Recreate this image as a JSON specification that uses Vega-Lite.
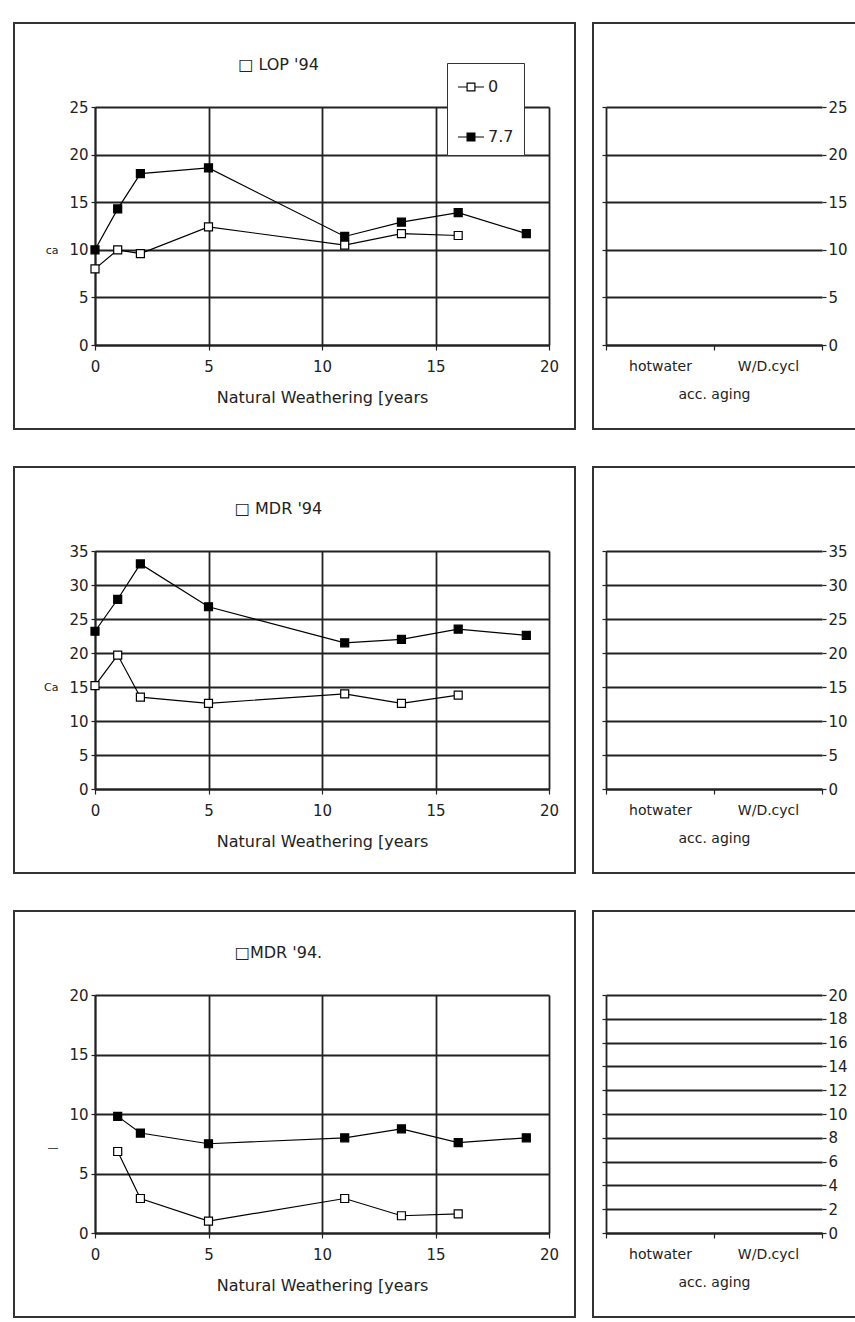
{
  "$schema": "https://vega.github.io/schema/vega-lite/v6.json",
  "padding": {"left": 13, "top": 22, "right": 0, "bottom": 0},
  "background": "white",
  "datasets": {
    "lop": [
      {"t": 0, "series": "0", "v": 8},
      {"t": 1, "series": "0", "v": 10},
      {"t": 2, "series": "0", "v": 9.6},
      {"t": 5, "series": "0", "v": 12.4},
      {"t": 11, "series": "0", "v": 10.5},
      {"t": 13.5, "series": "0", "v": 11.7},
      {"t": 16, "series": "0", "v": 11.5},
      {"t": 0, "series": "7.7", "v": 10},
      {"t": 1, "series": "7.7", "v": 14.3},
      {"t": 2, "series": "7.7", "v": 18},
      {"t": 5, "series": "7.7", "v": 18.6},
      {"t": 11, "series": "7.7", "v": 11.4},
      {"t": 13.5, "series": "7.7", "v": 12.9},
      {"t": 16, "series": "7.7", "v": 13.9},
      {"t": 19, "series": "7.7", "v": 11.7}
    ],
    "mdr": [
      {"t": 0, "series": "0", "v": 15.2},
      {"t": 1, "series": "0", "v": 19.7},
      {"t": 2, "series": "0", "v": 13.5},
      {"t": 5, "series": "0", "v": 12.6},
      {"t": 11, "series": "0", "v": 14},
      {"t": 13.5, "series": "0", "v": 12.6},
      {"t": 16, "series": "0", "v": 13.8},
      {"t": 0, "series": "7.7", "v": 23.2},
      {"t": 1, "series": "7.7", "v": 27.9},
      {"t": 2, "series": "7.7", "v": 33.1},
      {"t": 5, "series": "7.7", "v": 26.8},
      {"t": 11, "series": "7.7", "v": 21.5},
      {"t": 13.5, "series": "7.7", "v": 22},
      {"t": 16, "series": "7.7", "v": 23.5},
      {"t": 19, "series": "7.7", "v": 22.6}
    ],
    "mdr2": [
      {"t": 1, "series": "0", "v": 6.85},
      {"t": 2, "series": "0", "v": 2.9},
      {"t": 5, "series": "0", "v": 1},
      {"t": 11, "series": "0", "v": 2.9},
      {"t": 13.5, "series": "0", "v": 1.45},
      {"t": 16, "series": "0", "v": 1.6},
      {"t": 1, "series": "7.7", "v": 9.8},
      {"t": 2, "series": "7.7", "v": 8.4},
      {"t": 5, "series": "7.7", "v": 7.5},
      {"t": 11, "series": "7.7", "v": 8},
      {"t": 13.5, "series": "7.7", "v": 8.75},
      {"t": 16, "series": "7.7", "v": 7.6},
      {"t": 19, "series": "7.7", "v": 8}
    ],
    "empty": [
      {"method": "hotwater", "v": null},
      {"method": "W/D.cycl", "v": null}
    ]
  },
  "spacing": 36,
  "resolve": {"scale": {"fill": "independent"}},
  "vconcat": [
    {
      "spacing": 16,
      "resolve": {"scale": {"fill": "independent"}},
      "hconcat": [
        {
          "width": 561, "height": 406,
          "title": {"text": "□ LOP '94", "offset": -50, "dx": -16},
          "data": {"name": "lop"},
          "encoding": {
            "x": {"field": "t", "type": "quantitative", "scale": {"domain": [0, 20], "range": [81, 535], "nice": false, "zero": false},
                  "axis": {"values": [0, 5, 10, 15, 20], "offset": -84, "title": "Natural Weathering [years", "labelFlush": false, "tickSize": 5, "labelPadding": 9, "titlePadding": 15}},
            "y": {"field": "v", "type": "quantitative", "scale": {"domain": [0, 25], "range": [322, 84], "nice": false},
                  "axis": {"values": [0, 5, 10, 15, 20, 25], "offset": -81, "title": "ca", "titleAngle": 0, "titleX": -37, "titleY": 227, "titleAlign": "right", "titleBaseline": "middle", "titleFontSize": 11, "tickSize": 4, "labelPadding": 3}}
          },
          "layer": [
            {"mark": {"type": "line", "color": "black", "strokeWidth": 1.2}, "encoding": {"detail": {"field": "series"}}},
            {"mark": {"type": "point", "shape": "square", "filled": true, "size": 64, "stroke": "black", "strokeWidth": 1.2, "opacity": 1},
             "encoding": {"fill": {"field": "series", "type": "nominal", "scale": {"domain": ["0", "7.7"], "range": ["white", "black"]},
               "legend": {"orient": "none", "legendX": 433, "legendY": 40, "title": null, "symbolType": "M-1,0H-0.3M0.3,0H1M-0.3,-0.3H0.3V0.3H-0.3Z", "symbolSize": 676, "symbolStrokeColor": "black", "symbolStrokeWidth": 1.2, "labelFontSize": 16, "labelOffset": 3, "rowPadding": 28, "padding": 10, "strokeColor": "#333", "fillColor": "white", "labelColor": "#222"}}}}
          ]
        },
        {
          "width": 264, "height": 406,
          "data": {"name": "empty"},
          "encoding": {
            "x": {"field": "method", "type": "nominal", "sort": ["hotwater", "W/D.cycl"], "scale": {"domain": ["hotwater", "W/D.cycl"], "range": [13, 229], "paddingInner": 0, "paddingOuter": 0},
                  "axis": {"offset": -84, "title": "acc. aging", "labelAngle": 0, "tickBand": "extent", "grid": false, "tickSize": 5, "labelPadding": 9, "titlePadding": 14, "labelFontSize": 14, "titleFontSize": 14}}
          },
          "layer": [
            {"mark": {"type": "point", "opacity": 0},
             "encoding": {"y": {"field": "v", "type": "quantitative", "scale": {"domain": [0, 25], "range": [322, 84], "nice": false},
               "axis": {"orient": "left", "offset": -13, "labels": false, "grid": true, "values": [0, 5, 10, 15, 20, 25], "title": null, "tickSize": 4}}}},
            {"mark": {"type": "point", "opacity": 0},
             "encoding": {"y": {"field": "v", "type": "quantitative", "scale": {"domain": [0, 25], "range": [322, 84], "nice": false},
               "axis": {"orient": "right", "offset": -35, "domain": false, "grid": false, "values": [0, 5, 10, 15, 20, 25], "title": null, "tickSize": 4, "labelPadding": 2}}}}
          ],
          "resolve": {"axis": {"y": "independent"}}
        }
      ]
    },
    {
      "spacing": 16,
      "resolve": {"scale": {"fill": "independent"}},
      "hconcat": [
        {
          "width": 561, "height": 406,
          "title": {"text": "□ MDR '94", "offset": -50, "dx": -16},
          "data": {"name": "mdr"},
          "encoding": {
            "x": {"field": "t", "type": "quantitative", "scale": {"domain": [0, 20], "range": [81, 535], "nice": false, "zero": false},
                  "axis": {"values": [0, 5, 10, 15, 20], "offset": -84, "title": "Natural Weathering [years", "labelFlush": false, "tickSize": 5, "labelPadding": 9, "titlePadding": 15}},
            "y": {"field": "v", "type": "quantitative", "scale": {"domain": [0, 35], "range": [322, 84], "nice": false},
                  "axis": {"values": [0, 5, 10, 15, 20, 25, 30, 35], "offset": -81, "title": "Ca", "titleAngle": 0, "titleX": -37, "titleY": 220, "titleAlign": "right", "titleBaseline": "middle", "titleFontSize": 11, "tickSize": 4, "labelPadding": 3}}
          },
          "layer": [
            {"mark": {"type": "line", "color": "black", "strokeWidth": 1.2}, "encoding": {"detail": {"field": "series"}}},
            {"mark": {"type": "point", "shape": "square", "filled": true, "size": 64, "stroke": "black", "strokeWidth": 1.2, "opacity": 1},
             "encoding": {"fill": {"field": "series", "type": "nominal", "scale": {"domain": ["0", "7.7"], "range": ["white", "black"]}, "legend": null}}}
          ]
        },
        {
          "width": 264, "height": 406,
          "data": {"name": "empty"},
          "encoding": {
            "x": {"field": "method", "type": "nominal", "sort": ["hotwater", "W/D.cycl"], "scale": {"domain": ["hotwater", "W/D.cycl"], "range": [13, 229], "paddingInner": 0, "paddingOuter": 0},
                  "axis": {"offset": -84, "title": "acc. aging", "labelAngle": 0, "tickBand": "extent", "grid": false, "tickSize": 5, "labelPadding": 9, "titlePadding": 14, "labelFontSize": 14, "titleFontSize": 14}}
          },
          "layer": [
            {"mark": {"type": "point", "opacity": 0},
             "encoding": {"y": {"field": "v", "type": "quantitative", "scale": {"domain": [0, 35], "range": [322, 84], "nice": false},
               "axis": {"orient": "left", "offset": -13, "labels": false, "grid": true, "values": [0, 5, 10, 15, 20, 25, 30, 35], "title": null, "tickSize": 4}}}},
            {"mark": {"type": "point", "opacity": 0},
             "encoding": {"y": {"field": "v", "type": "quantitative", "scale": {"domain": [0, 35], "range": [322, 84], "nice": false},
               "axis": {"orient": "right", "offset": -35, "domain": false, "grid": false, "values": [0, 5, 10, 15, 20, 25, 30, 35], "title": null, "tickSize": 4, "labelPadding": 2}}}}
          ],
          "resolve": {"axis": {"y": "independent"}}
        }
      ]
    },
    {
      "spacing": 16,
      "resolve": {"scale": {"fill": "independent"}},
      "hconcat": [
        {
          "width": 561, "height": 406,
          "title": {"text": "□MDR '94.", "offset": -50, "dx": -16},
          "data": {"name": "mdr2"},
          "encoding": {
            "x": {"field": "t", "type": "quantitative", "scale": {"domain": [0, 20], "range": [81, 535], "nice": false, "zero": false},
                  "axis": {"values": [0, 5, 10, 15, 20], "offset": -84, "title": "Natural Weathering [years", "labelFlush": false, "tickSize": 5, "labelPadding": 9, "titlePadding": 15}},
            "y": {"field": "v", "type": "quantitative", "scale": {"domain": [0, 20], "range": [322, 84], "nice": false},
                  "axis": {"values": [0, 5, 10, 15, 20], "offset": -81, "title": "—", "titleAngle": 0, "titleX": -37, "titleY": 236, "titleAlign": "right", "titleBaseline": "middle", "titleFontSize": 11, "tickSize": 4, "labelPadding": 3}}
          },
          "layer": [
            {"mark": {"type": "line", "color": "black", "strokeWidth": 1.2}, "encoding": {"detail": {"field": "series"}}},
            {"mark": {"type": "point", "shape": "square", "filled": true, "size": 64, "stroke": "black", "strokeWidth": 1.2, "opacity": 1},
             "encoding": {"fill": {"field": "series", "type": "nominal", "scale": {"domain": ["0", "7.7"], "range": ["white", "black"]}, "legend": null}}}
          ]
        },
        {
          "width": 264, "height": 406,
          "data": {"name": "empty"},
          "encoding": {
            "x": {"field": "method", "type": "nominal", "sort": ["hotwater", "W/D.cycl"], "scale": {"domain": ["hotwater", "W/D.cycl"], "range": [13, 229], "paddingInner": 0, "paddingOuter": 0},
                  "axis": {"offset": -84, "title": "acc. aging", "labelAngle": 0, "tickBand": "extent", "grid": false, "tickSize": 5, "labelPadding": 9, "titlePadding": 14, "labelFontSize": 14, "titleFontSize": 14}}
          },
          "layer": [
            {"mark": {"type": "point", "opacity": 0},
             "encoding": {"y": {"field": "v", "type": "quantitative", "scale": {"domain": [0, 20], "range": [322, 84], "nice": false},
               "axis": {"orient": "left", "offset": -13, "labels": false, "grid": true, "values": [0, 2, 4, 6, 8, 10, 12, 14, 16, 18, 20], "title": null, "tickSize": 4}}}},
            {"mark": {"type": "point", "opacity": 0},
             "encoding": {"y": {"field": "v", "type": "quantitative", "scale": {"domain": [0, 20], "range": [322, 84], "nice": false},
               "axis": {"orient": "right", "offset": -35, "domain": false, "grid": false, "values": [0, 2, 4, 6, 8, 10, 12, 14, 16, 18, 20], "title": null, "tickSize": 4, "labelPadding": 2}}}}
          ],
          "resolve": {"axis": {"y": "independent"}}
        }
      ]
    }
  ],
  "config": {
    "font": "DejaVu Sans",
    "view": {"stroke": "#333", "strokeWidth": 2},
    "axis": {
      "gridColor": "#222", "gridWidth": 1.8, "gridOpacity": 1,
      "domainColor": "#222", "domainWidth": 1.8,
      "tickColor": "#222", "tickWidth": 1.2,
      "labelColor": "#222", "titleColor": "#222",
      "labelFont": "DejaVu Sans", "titleFont": "DejaVu Sans",
      "labelFontSize": 15, "titleFontSize": 16, "titleFontWeight": "normal"
    },
    "title": {"fontWeight": "normal", "fontSize": 16, "color": "#222", "font": "DejaVu Sans"},
    "legend": {"labelFont": "DejaVu Sans"}
  }
}
